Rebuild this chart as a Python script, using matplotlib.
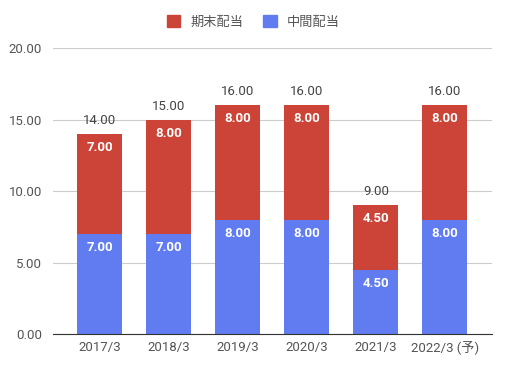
import matplotlib
matplotlib.use("Agg")
import matplotlib.pyplot as plt
import numpy as np
from matplotlib.patches import Patch

plt.rcParams['font.family'] = ['Roboto', 'Noto Sans CJK JP', 'DejaVu Sans']

categories = ["2017/3", "2018/3", "2019/3", "2020/3", "2021/3", "2022/3 (予)"]
interim = [7.00, 7.00, 8.00, 8.00, 4.50, 8.00]    # 中間配当
year_end = [7.00, 8.00, 8.00, 8.00, 4.50, 8.00]   # 期末配当
yticks = [0, 5, 10, 15, 20]

RED = "#cc4437"
BLUE = "#607cf0"

fig = plt.figure(figsize=(5.07, 3.70), dpi=100)
ax = fig.add_axes([0.1045, 0.0973, 0.8655, 0.7727])

x = np.arange(len(categories))
w = 0.65
totals = [a + b for a, b in zip(interim, year_end)]

ax.bar(x, interim, w, color=BLUE, zorder=2)
ax.bar(x, year_end, w, bottom=interim, color=RED, zorder=2)

for i in range(len(x)):
    ax.annotate(f"{interim[i]:.2f}", (x[i], interim[i]), xytext=(0, -5),
                textcoords="offset points", ha="center", va="top",
                color="white", fontsize=9.5, fontweight="bold")
    ax.annotate(f"{year_end[i]:.2f}", (x[i], totals[i]), xytext=(0, -5),
                textcoords="offset points", ha="center", va="top",
                color="white", fontsize=9.5, fontweight="bold")
    ax.annotate(f"{totals[i]:.2f}", (x[i], totals[i]), xytext=(0, 5),
                textcoords="offset points", ha="center", va="bottom",
                color="#444444", fontsize=9.5)

ax.set_xlim(-0.68, len(x) - 1 + 0.68)
ax.set_ylim(0, 20)
ax.set_yticks(yticks)
ax.set_yticklabels([f"{v:.2f}" for v in yticks])
ax.set_xticks(x)
ax.set_xticklabels(categories)
ax.tick_params(axis="both", length=0, colors="#555555", labelsize=9.5)
ax.tick_params(axis="y", pad=8)
ax.tick_params(axis="x", pad=5)
ax.grid(axis="y", color="#cccccc", linewidth=0.8, zorder=0)
for s in ["left", "right", "top"]:
    ax.spines[s].set_visible(False)
ax.spines["bottom"].set_color("#333333")
ax.spines["bottom"].set_zorder(3)

handles = [Patch(color=RED, label="期末配当"), Patch(color=BLUE, label="中間配当")]
fig.legend(handles=handles, loc="center", bbox_to_anchor=(0.5, 0.94), ncol=2,
           frameon=False, fontsize=9.5, handlelength=1.0, handleheight=1.0,
           columnspacing=1.5, labelcolor="#555555")

fig.savefig("out.png", dpi=100)
